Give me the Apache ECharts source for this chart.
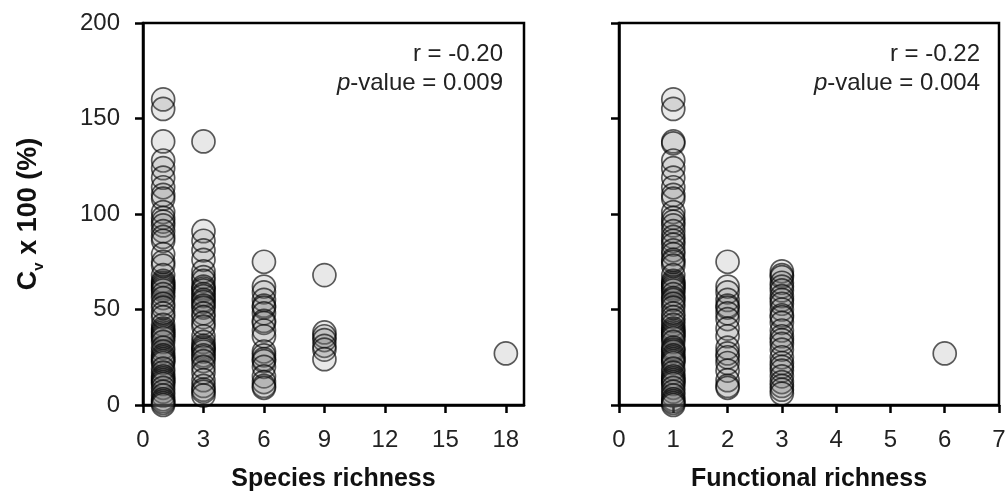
<!DOCTYPE html>
<html>
<head>
<meta charset="utf-8">
<script src="https://cdn.jsdelivr.net/npm/echarts@6/dist/echarts.min.js"></script>
<style>
  html, body { margin: 0; padding: 0; background: #fff; }
  #chart { width: 1006px; height: 493px; }
</style>
</head>
<body>
<div id="chart"></div>
<script>
// Coefficient of variation (Cv x 100, %) against richness levels
const speciesLevels = [1, 3, 6, 9, 18];
const cvSpecies1 = [160, 155, 138, 128, 124, 119, 114, 110, 108, 101, 98, 96, 94, 91, 88, 86, 79, 75, 73, 68, 65, 64, 63, 62, 61, 60, 58, 56, 53, 51, 48, 46, 42, 40, 39, 38, 37, 36, 35, 33, 30, 28, 26, 25, 24, 23, 22, 19, 17, 15, 14, 13, 12, 11, 9, 7, 5, 3, 2, 1, 0];
const cvSpecies3 = [138, 91, 86, 81, 76, 70, 67, 65, 62, 61, 60, 58, 57, 55, 54, 52, 51, 48, 46, 43, 41, 36, 33, 31, 30, 29, 28, 26, 25, 23, 20, 17, 13, 10, 8, 7, 5];
const cvSpecies6 = [75, 62, 59, 55, 52, 51, 48, 44, 43, 39, 36, 28, 26, 24, 23, 20, 15, 12, 10, 9];
const cvSpecies9 = [68, 38, 36, 34, 31, 29, 24];
const cvSpecies18 = [27];

const functionalLevels = [1, 2, 3, 6];
const cvFunctional1 = [160, 155, 138, 137, 128, 124, 119, 114, 110, 108, 101, 98, 96, 94, 91, 88, 86, 84, 81, 79, 76, 75, 73, 68, 65, 64, 63, 62, 61, 60, 58, 56, 55, 53, 51, 48, 46, 44, 42, 40, 39, 38, 37, 36, 35, 33, 30, 29, 28, 26, 25, 24, 23, 22, 19, 17, 15, 14, 13, 12, 11, 9, 7, 5, 3, 2, 1, 0];
const cvFunctional2 = [75, 62, 59, 55, 52, 51, 48, 45, 40, 36, 30, 27, 25, 22, 18, 13, 10, 9];
const cvFunctional3 = [70, 68, 67, 64, 62, 60, 57, 55, 53, 50, 47, 46, 43, 39, 36, 34, 32, 29, 25, 22, 20, 18, 15, 12, 10, 8, 6];
const cvFunctional6 = [27];

const speciesTicks = [0, 3, 6, 9, 12, 15, 18];
const yTicks = [0, 50, 100, 150, 200];

const statsSpecies = { r: 'r = -0.20', p: '0.009' };
const statsFunctional = { r: 'r = -0.22', p: '0.004' };

const FONT = '"Liberation Sans", Arial, sans-serif';

function toPoints(levels, columns) {
  const pts = [];
  levels.forEach((lv, i) => columns[i].forEach(v => pts.push([lv, v])));
  return pts;
}

const speciesData = toPoints(speciesLevels, [cvSpecies1, cvSpecies3, cvSpecies6, cvSpecies9, cvSpecies18]);
const functionalData = toPoints(functionalLevels, [cvFunctional1, cvFunctional2, cvFunctional3, cvFunctional6]);

const lineStyle = { color: '#000', width: 2.5 };
const tickStyle = { show: true, inside: false, length: 8, lineStyle: { color: '#000', width: 2.5 } };
const labelStyle = { color: '#222', fontFamily: FONT, fontSize: 24 };
const nameStyle = { color: '#111', fontFamily: FONT, fontSize: 25, fontWeight: 'bold' };

const markerStyle = {
  color: 'rgba(110,110,110,0.2)',
  borderColor: 'rgba(0,0,0,0.8)',
  borderWidth: 1.7
};

function statTitles(stats, rightPx) {
  return [
    { text: stats.r, right: rightPx, top: 42, padding: 0,
      textStyle: { fontFamily: FONT, fontSize: 24, fontWeight: 'normal', color: '#222' } },
    { text: '{i|p}-value = ' + stats.p, right: rightPx, top: 71, padding: 0,
      textStyle: { fontFamily: FONT, fontSize: 24, fontWeight: 'normal', color: '#222',
        rich: { i: { fontFamily: FONT, fontSize: 24, fontStyle: 'italic', color: '#222' } } } }
  ];
}

const chart = echarts.init(document.getElementById('chart'), null, { renderer: 'canvas' });

chart.setOption({
  backgroundColor: '#fff',
  animation: false,
  title: [].concat(statTitles(statsSpecies, 503), statTitles(statsFunctional, 26)),
  grid: [
    { left: 143, top: 23, width: 381, height: 382, outerBoundsMode: 'none', containLabel: false,
      show: true, borderColor: '#000', borderWidth: 2.5, backgroundColor: 'transparent' },
    { left: 619, top: 23, width: 380, height: 382, outerBoundsMode: 'none', containLabel: false,
      show: true, borderColor: '#000', borderWidth: 2.5, backgroundColor: 'transparent' }
  ],
  xAxis: [
    {
      gridIndex: 0, type: 'value', min: 0, max: 18.9,
      name: 'Species richness', nameLocation: 'middle', nameGap: 62, nameTextStyle: nameStyle,
      axisLine: { show: true, onZero: false, lineStyle },
      axisTick: Object.assign({}, tickStyle, { customValues: speciesTicks }),
      axisLabel: Object.assign({}, labelStyle, { margin: 23, customValues: speciesTicks }),
      splitLine: { show: false }
    },
    {
      gridIndex: 1, type: 'value', min: 0, max: 7, interval: 1,
      name: 'Functional richness', nameLocation: 'middle', nameGap: 62, nameTextStyle: nameStyle,
      axisLine: { show: true, onZero: false, lineStyle },
      axisTick: tickStyle,
      axisLabel: Object.assign({}, labelStyle, { margin: 23 }),
      splitLine: { show: false }
    }
  ],
  yAxis: [
    {
      gridIndex: 0, type: 'value', min: 0, max: 200, interval: 50,
      name: '{b|C}{s|v}{b| x 100 (%)}', nameLocation: 'middle', nameGap: 101, nameRotate: 90,
      nameTextStyle: {
        rich: {
          b: { fontFamily: FONT, fontSize: 27, fontWeight: 'bold', color: '#111', lineHeight: 32, verticalAlign: 'bottom' },
          s: { fontFamily: FONT, fontSize: 15, fontWeight: 'bold', color: '#111', lineHeight: 32, verticalAlign: 'bottom', padding: [0, 0, -4, 0] }
        }
      },
      axisLine: { show: true, onZero: false, lineStyle },
      axisTick: Object.assign({}, tickStyle, { customValues: yTicks }),
      axisLabel: Object.assign({}, labelStyle, { margin: 23, customValues: yTicks }),
      splitLine: { show: false }
    },
    {
      gridIndex: 1, type: 'value', min: 0, max: 200, interval: 50,
      axisLine: { show: true, onZero: false, lineStyle },
      axisTick: tickStyle,
      axisLabel: { show: false },
      splitLine: { show: false }
    }
  ],
  series: [
    {
      type: 'scatter', xAxisIndex: 0, yAxisIndex: 0, data: speciesData,
      symbol: 'circle', symbolSize: 23, clip: false, itemStyle: markerStyle, z: 1
    },
    {
      type: 'scatter', xAxisIndex: 1, yAxisIndex: 1, data: functionalData,
      symbol: 'circle', symbolSize: 23, clip: false, itemStyle: markerStyle, z: 1
    }
  ]
});
</script>
</body>
</html>
